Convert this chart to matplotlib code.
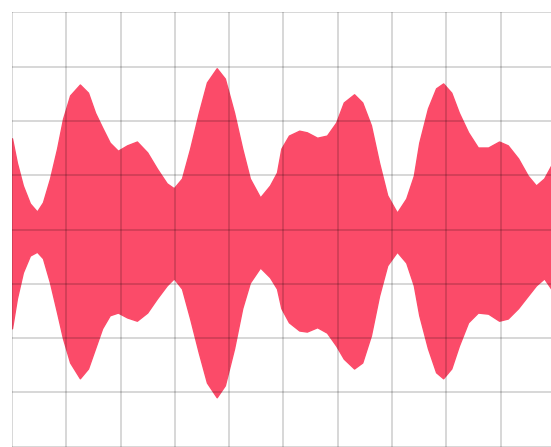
import numpy as np
import matplotlib.pyplot as plt

# envelope, in grid divisions
# x: divisions from the left edge, y: divisions from the centre line
env_x = [0.00, 0.09, 0.20, 0.33, 0.46, 0.57, 0.70, 0.83, 0.94, 1.07,
         1.25, 1.40, 1.53, 1.66, 1.80, 1.95, 2.12, 2.30, 2.49, 2.67,
         2.85, 2.98, 3.13, 3.28, 3.44, 3.59, 3.77, 3.92, 4.09, 4.24,
         4.38, 4.57, 4.75, 4.88, 4.96, 5.10, 5.29, 5.43, 5.62, 5.80,
         5.97, 6.11, 6.30, 6.45, 6.61, 6.76, 6.91, 7.09, 7.26, 7.40,
         7.50, 7.66, 7.81, 7.94, 8.09, 8.23, 8.40, 8.58, 8.77, 8.97,
         9.13, 9.32, 9.50, 9.65, 9.80, 9.93]

upper = [1.68, 1.23, 0.81, 0.48, 0.33, 0.50, 0.94, 1.49, 2.04, 2.47,
         2.67, 2.52, 2.15, 1.88, 1.60, 1.45, 1.55, 1.62, 1.42, 1.12,
         0.85, 0.76, 0.94, 1.49, 2.15, 2.71, 2.97, 2.78, 2.15, 1.49,
         0.94, 0.59, 0.81, 1.05, 1.49, 1.73, 1.82, 1.79, 1.69, 1.73,
         1.97, 2.34, 2.49, 2.34, 1.92, 1.23, 0.63, 0.31, 0.57, 0.99,
         1.60, 2.23, 2.60, 2.69, 2.52, 2.15, 1.79, 1.51, 1.51, 1.62,
         1.55, 1.31, 0.99, 0.81, 0.94, 1.18]

lower = [-1.82, -1.27, -0.79, -0.48, -0.41, -0.53, -0.98, -1.53, -2.01, -2.45,
         -2.74, -2.56, -2.19, -1.82, -1.58, -1.53, -1.62, -1.68, -1.53, -1.27,
         -1.03, -0.90, -1.09, -1.64, -2.27, -2.82, -3.09, -2.87, -2.19, -1.45,
         -0.98, -0.70, -0.88, -1.09, -1.45, -1.71, -1.86, -1.88, -1.80, -1.90,
         -2.14, -2.38, -2.56, -2.45, -1.95, -1.22, -0.66, -0.41, -0.61, -1.03,
         -1.58, -2.19, -2.63, -2.74, -2.56, -2.14, -1.71, -1.53, -1.55, -1.68,
         -1.64, -1.45, -1.22, -1.03, -0.90, -1.09]

fig = plt.figure(figsize=(5.51, 4.47), dpi=100)
ax = fig.add_axes([12 / 551, 0, 539 / 551, 435 / 447])

ax.fill_between(env_x, lower, upper, color='#fb4b69', lw=1.0,
                ec='#fb4b69', joinstyle='round', zorder=1)

ax.set_xlim(0, 539 / 54.3)
ax.set_ylim(-435 / 54.3 / 2, 435 / 54.3 / 2)
ax.set_xticks(np.arange(0, 10))
ax.set_yticks(np.arange(-4, 5))
ax.tick_params(length=0, labelbottom=False, labelleft=False)
for s in ax.spines.values():
    s.set_visible(False)
ax.set_axisbelow(False)
ax.grid(True, color='black', alpha=0.17, lw=1.3, zorder=2)

fig.savefig('out.png', dpi=100)
